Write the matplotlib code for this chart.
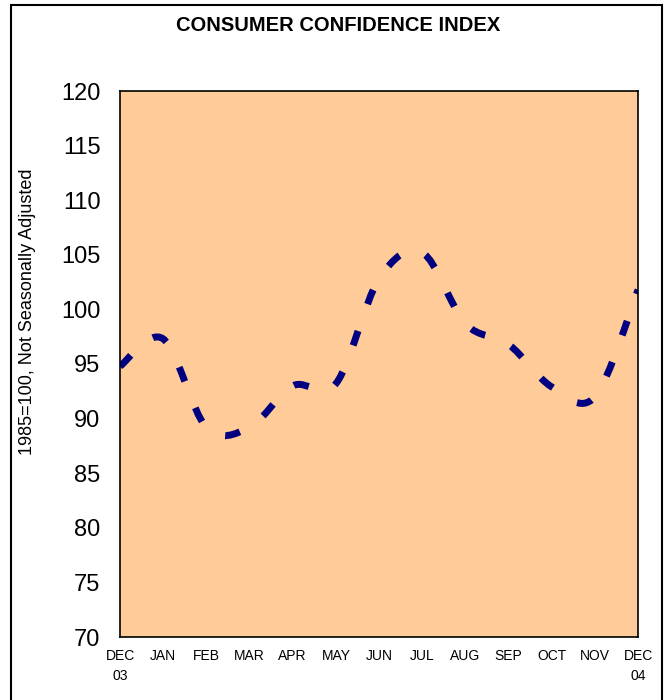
import matplotlib
matplotlib.use("Agg")
import matplotlib.pyplot as plt
from matplotlib.path import Path
from matplotlib.patches import PathPatch, Rectangle

# consumer confidence, dec 2003 - dec 2004
months = ["DEC\n03", "JAN", "FEB", "MAR", "APR", "MAY", "JUN",
          "JUL", "AUG", "SEP", "OCT", "NOV", "DEC\n04"]
index_vals = [94.8, 97.3, 89.2, 89.2, 93.0, 93.2, 102.8,
              105.2, 98.7, 96.8, 92.9, 92.0, 101.8]
y_ticks = [70, 75, 80, 85, 90, 95, 100, 105, 110, 115, 120]

plt.rcParams['font.family'] = ['Liberation Sans', 'DejaVu Sans']
plt.rcParams['lines.scale_dashes'] = False


def smooth_path(xs, ys):
    # excel-like smoothed line: cubic bezier with catmull-rom tangents
    n = len(xs)
    verts = [(xs[0], ys[0])]
    codes = [Path.MOVETO]
    for i in range(n - 1):
        x0, y0 = (xs[i - 1], ys[i - 1]) if i > 0 else (xs[i], ys[i])
        x1, y1 = xs[i], ys[i]
        x2, y2 = xs[i + 1], ys[i + 1]
        x3, y3 = (xs[i + 2], ys[i + 2]) if i + 2 < n else (x2, y2)
        verts += [(x1 + (x2 - x0) / 6, y1 + (y2 - y0) / 6),
                  (x2 - (x3 - x1) / 6, y2 - (y3 - y1) / 6),
                  (x2, y2)]
        codes += [Path.CURVE4] * 3
    return Path(verts, codes)


def main():
    fig = plt.figure(figsize=(6.65, 7.0), dpi=100)
    ax = fig.add_axes([0.1805, 0.09, 0.779, 0.78])
    ax.set_facecolor("#FFCC99")

    x = list(range(len(months)))
    line = PathPatch(smooth_path(x, index_vals), fill=False,
                     edgecolor="#000080", linewidth=5.0,
                     linestyle=(0, (11.0, 20.5)), capstyle="butt")
    ax.add_patch(line)

    ax.set_xlim(0, len(months) - 1)
    ax.set_ylim(70, 120)
    ax.set_yticks(y_ticks)
    ax.set_xticks(x)
    ax.set_xticklabels(months, fontsize=10, linespacing=1.5)
    ax.tick_params(axis="y", length=0, pad=14, labelsize=17)
    ax.tick_params(axis="x", length=0, pad=9)
    for s in ax.spines.values():
        s.set_linewidth(1.2)
        s.set_color("black")

    fig.text(0.508, 0.964, "CONSUMER CONFIDENCE INDEX", ha="center",
             va="center", fontsize=14.5, fontweight="bold")
    fig.text(0.042, 0.554, "1985=100, Not Seasonally Adjusted",
             rotation=90, ha="center", va="center", fontsize=13)

    # outer frame
    fig.patches.append(Rectangle((0.016, -0.02), 0.979, 1.013,
                                 transform=fig.transFigure, fill=False,
                                 edgecolor="black", linewidth=1.5))

    fig.savefig("out.png", dpi=100)


if __name__ == "__main__":
    main()
